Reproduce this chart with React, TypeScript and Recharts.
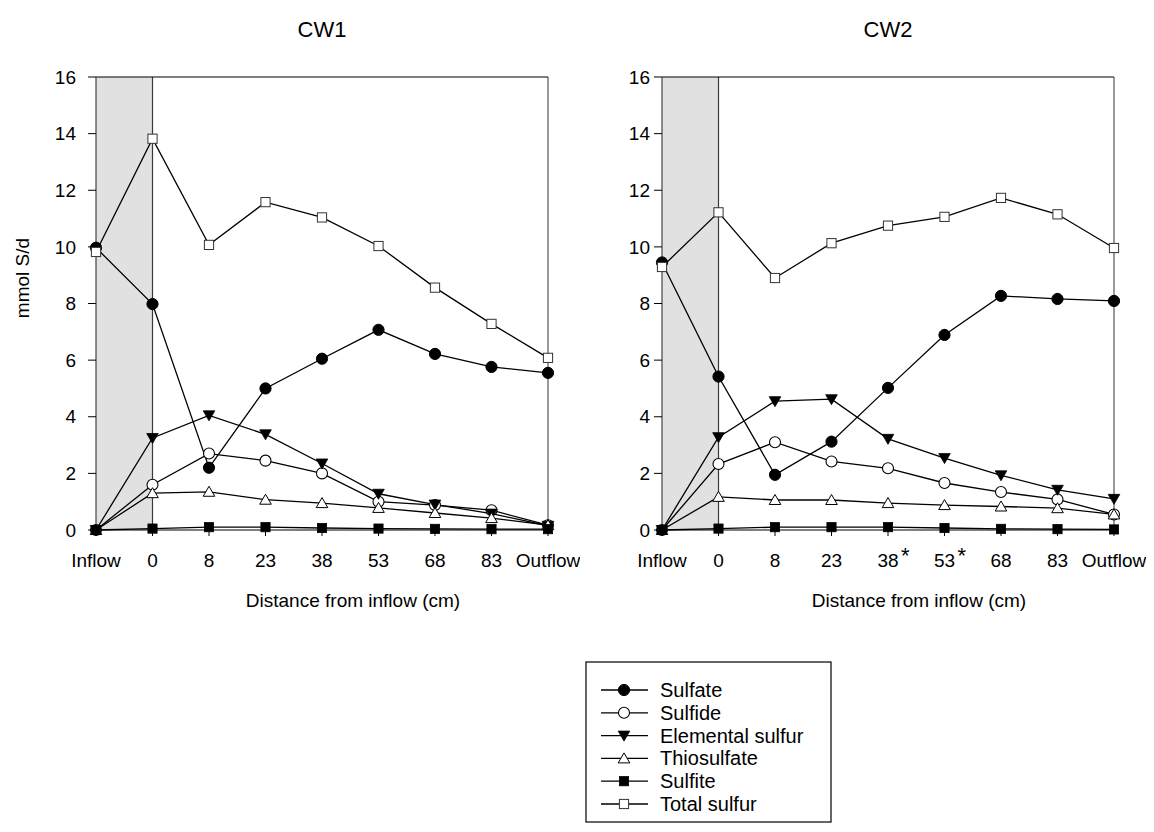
import React from 'react';
import { LineChart, Line, XAxis, YAxis, ReferenceArea, ReferenceLine } from 'recharts';

// Sampling positions along the wetland (cm from inflow)
const categories = ['Inflow', '0', '8', '23', '38', '53', '68', '83', 'Outflow'];
const yTicks = [0, 2, 4, 6, 8, 10, 12, 14, 16];

// CW1 sulfur species (mmol S/d)
const cw1Sulfate = [9.97, 7.98, 2.2, 5.0, 6.05, 7.07, 6.22, 5.76, 5.55];
const cw1Sulfide = [0, 1.6, 2.7, 2.45, 2.0, 1.0, 0.88, 0.7, 0.17];
const cw1Elemental = [0, 3.25, 4.05, 3.38, 2.35, 1.28, 0.9, 0.58, 0.15];
const cw1Thiosulfate = [0, 1.3, 1.35, 1.07, 0.95, 0.78, 0.6, 0.42, 0.17];
const cw1Sulfite = [0, 0.05, 0.1, 0.1, 0.07, 0.05, 0.04, 0.03, 0.03];
const cw1Total = [9.82, 13.82, 10.07, 11.58, 11.04, 10.03, 8.56, 7.28, 6.08];

// CW2 sulfur species (mmol S/d)
const cw2Sulfate = [9.45, 5.42, 1.95, 3.12, 5.02, 6.89, 8.27, 8.16, 8.09];
const cw2Sulfide = [0, 2.33, 3.1, 2.42, 2.18, 1.66, 1.34, 1.08, 0.55];
const cw2Elemental = [0, 3.28, 4.55, 4.62, 3.22, 2.54, 1.93, 1.42, 1.1];
const cw2Thiosulfate = [0, 1.17, 1.06, 1.06, 0.95, 0.88, 0.83, 0.77, 0.55];
const cw2Sulfite = [0, 0.05, 0.1, 0.1, 0.1, 0.07, 0.04, 0.03, 0.02];
const cw2Total = [9.29, 11.22, 8.9, 10.13, 10.75, 11.06, 11.73, 11.15, 9.96];

// Positions marked with an asterisk on the CW2 axis
const cw2Starred = ['38', '53'];

const FONT = '"Liberation Sans", Arial, sans-serif';

type Shape = 'circleFilled' | 'circleOpen' | 'triDown' | 'triUp' | 'squareFilled' | 'squareOpen';

const series: { key: string; name: string; shape: Shape }[] = [
  { key: 'sulfate', name: 'Sulfate', shape: 'circleFilled' },
  { key: 'sulfide', name: 'Sulfide', shape: 'circleOpen' },
  { key: 'elemental', name: 'Elemental sulfur', shape: 'triDown' },
  { key: 'thiosulfate', name: 'Thiosulfate', shape: 'triUp' },
  { key: 'sulfite', name: 'Sulfite', shape: 'squareFilled' },
  { key: 'total', name: 'Total sulfur', shape: 'squareOpen' },
];

function buildRows(values: Record<string, number[]>) {
  return categories.map((cat, i) => {
    const row: Record<string, string | number> = { cat };
    Object.keys(values).forEach((k) => {
      row[k] = values[k][i];
    });
    return row;
  });
}

const cw1Rows = buildRows({
  sulfate: cw1Sulfate,
  sulfide: cw1Sulfide,
  elemental: cw1Elemental,
  thiosulfate: cw1Thiosulfate,
  sulfite: cw1Sulfite,
  total: cw1Total,
});

const cw2Rows = buildRows({
  sulfate: cw2Sulfate,
  sulfide: cw2Sulfide,
  elemental: cw2Elemental,
  thiosulfate: cw2Thiosulfate,
  sulfite: cw2Sulfite,
  total: cw2Total,
});

function Marker({ shape, cx, cy }: { shape: Shape; cx: number; cy: number }) {
  if (cx == null || cy == null || isNaN(cx) || isNaN(cy)) return <g />;
  switch (shape) {
    case 'circleFilled':
      return <circle cx={cx} cy={cy} r={5.6} fill="#000" stroke="#000" strokeWidth={1} />;
    case 'circleOpen':
      return <circle cx={cx} cy={cy} r={5.5} fill="#fff" stroke="#000" strokeWidth={1.1} />;
    case 'triDown':
      return (
        <polygon
          points={`${cx - 5.8},${cy - 4.5} ${cx + 5.8},${cy - 4.5} ${cx},${cy + 5.5}`}
          fill="#000"
          stroke="#000"
          strokeWidth={0.8}
        />
      );
    case 'triUp':
      return (
        <polygon
          points={`${cx - 5.8},${cy + 4.5} ${cx + 5.8},${cy + 4.5} ${cx},${cy - 5.5}`}
          fill="#fff"
          stroke="#000"
          strokeWidth={1}
        />
      );
    case 'squareFilled':
      return <rect x={cx - 4.6} y={cy - 4.6} width={9.2} height={9.2} fill="#000" stroke="#000" strokeWidth={0.8} />;
    case 'squareOpen':
      return <rect x={cx - 4.6} y={cy - 4.6} width={9.2} height={9.2} fill="#fff" stroke="#333" strokeWidth={1} />;
    default:
      return <g />;
  }
}

function XTick(props: any) {
  const { x, y, payload, starred } = props;
  const isStar = starred.includes(payload.value);
  return (
    <g>
      <text x={x} y={y + 13.5} textAnchor="middle" fontSize={19} fontFamily={FONT} fill="#000">
        {payload.value}
      </text>
      {isStar && (
        <text x={x + 13} y={y + 10} textAnchor="start" fontSize={22} fontFamily={FONT} fill="#000">
          *
        </text>
      )}
    </g>
  );
}

function YTick(props: any) {
  const { x, y, payload } = props;
  return (
    <text x={x} y={y + 6.7} textAnchor="end" fontSize={19} fontFamily={FONT} fill="#000">
      {payload.value}
    </text>
  );
}

function Panel({
  rows,
  starred,
  left,
  yTickMargin,
}: {
  rows: Record<string, string | number>[];
  starred: string[];
  left: number;
  yTickMargin: number;
}) {
  return (
    <div style={{ position: 'absolute', left, top: 0 }}>
      <LineChart width={580} height={640} data={rows} margin={{ top: 77, right: 32, bottom: 70, left: 36 }}>
        <ReferenceArea x1="Inflow" x2="0" y1={0} y2={16} fill="#e1e1e1" fillOpacity={1} stroke="none" />
        <ReferenceLine x="0" stroke="#3a3a3a" strokeWidth={1.2} />
        <ReferenceLine x="Outflow" stroke="#555" strokeWidth={1.2} />
        <ReferenceLine y={16} stroke="#000" strokeWidth={1.2} />
        <XAxis
          dataKey="cat"
          type="category"
          scale="point"
          padding={{ left: 0, right: 0 }}
          interval={0}
          height={40}
          tickSize={6}
          tickMargin={17}
          axisLine={{ stroke: '#000', strokeWidth: 1.2 }}
          tickLine={{ stroke: '#000' }}
          tick={<XTick starred={starred} />}
        />
        <YAxis
          type="number"
          domain={[0, 16]}
          ticks={yTicks}
          width={60}
          tickSize={8}
          tickMargin={yTickMargin}
          axisLine={{ stroke: '#444', strokeWidth: 1.2 }}
          tickLine={{ stroke: '#000' }}
          tick={<YTick />}
        />
        {series.map((s) => (
          <Line
            key={s.key}
            dataKey={s.key}
            name={s.name}
            type="linear"
            stroke="#000"
            strokeWidth={1.3}
            isAnimationActive={false}
            dot={(p: any) => <Marker key={`${s.key}-${p.index}`} shape={s.shape} cx={p.cx} cy={p.cy} />}
            activeDot={false}
          />
        ))}
      </LineChart>
    </div>
  );
}

const legendRowY = [690, 712.8, 735.6, 758.4, 781.2, 804];

export default function App() {
  return (
    <div style={{ position: 'absolute', left: 0, top: 0, width: 1154, height: 832, background: '#fff' }}>
      <Panel rows={cw1Rows} starred={[]} left={0} yTickMargin={12} />
      <Panel rows={cw2Rows} starred={cw2Starred} left={566} yTickMargin={4} />
      <svg
        width={1154}
        height={832}
        style={{ position: 'absolute', left: 0, top: 0, pointerEvents: 'none' }}
        fontFamily={FONT}
      >
        <text x={322} y={37} textAnchor="middle" fontSize={22} fill="#000">
          CW1
        </text>
        <text x={888} y={37} textAnchor="middle" fontSize={22} fill="#000">
          CW2
        </text>
        <text x={353} y={607} textAnchor="middle" fontSize={19} fill="#000">
          Distance from inflow (cm)
        </text>
        <text x={919} y={607} textAnchor="middle" fontSize={19} fill="#000">
          Distance from inflow (cm)
        </text>
        <text x={29} y={278} textAnchor="middle" fontSize={19} fill="#000" transform="rotate(-90 29 278)">
          mmol S/d
        </text>
        <rect x={586} y={662} width={245} height={160} fill="#fff" stroke="#000" strokeWidth={1.2} />
        {series.map((s, i) => (
          <g key={s.key}>
            <line x1={601} x2={648} y1={legendRowY[i]} y2={legendRowY[i]} stroke="#000" strokeWidth={1.3} />
            <Marker shape={s.shape} cx={624} cy={legendRowY[i]} />
            <text x={660} y={legendRowY[i] + 7} fontSize={20} fill="#000">
              {s.name}
            </text>
          </g>
        ))}
      </svg>
    </div>
  );
}
